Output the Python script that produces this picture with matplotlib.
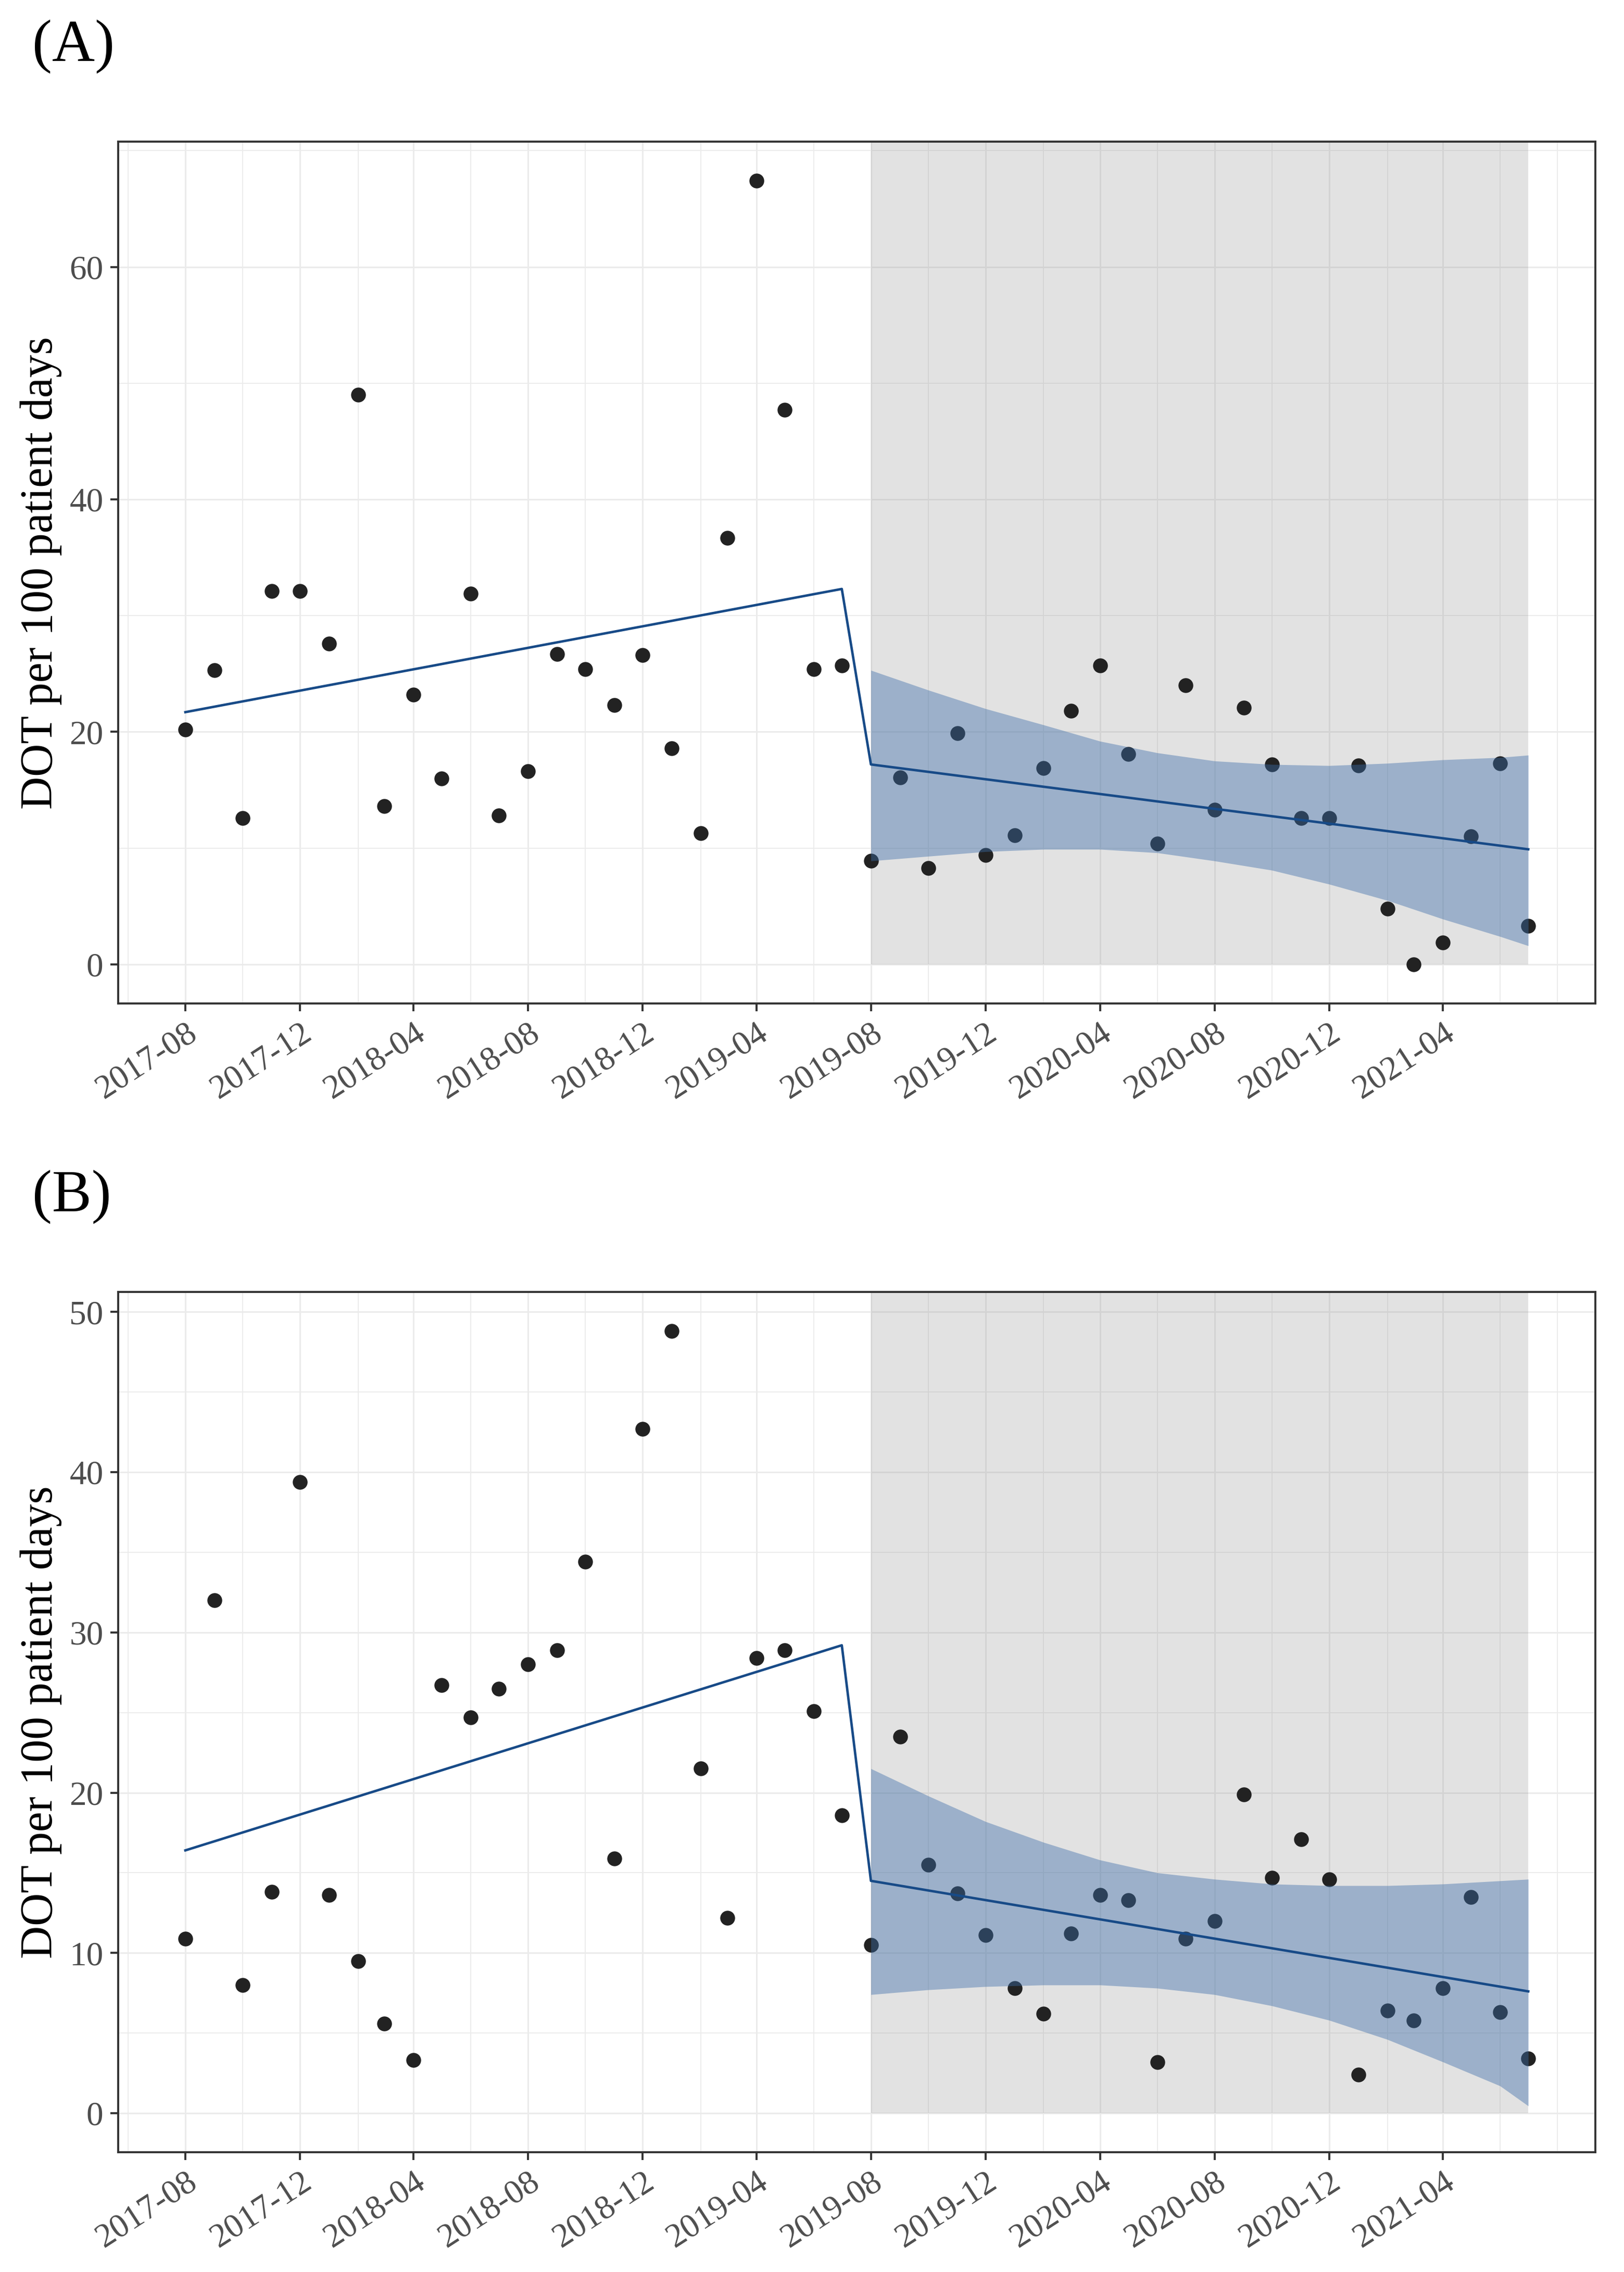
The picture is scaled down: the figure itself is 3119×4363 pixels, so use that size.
import numpy as np
import pandas as pd
import matplotlib
matplotlib.use('Agg')
import matplotlib.pyplot as plt
from matplotlib.ticker import MultipleLocator, FixedLocator
import matplotlib.dates as mdates

plt.rcParams['font.family'] = ['Liberation Serif', 'DejaVu Serif']

# ---- D A T A ---- #
months = pd.date_range('2017-08-01', periods=48, freq='MS')
intervention_start = '2019-08-01'
tick_labels = ['2017-08', '2017-12', '2018-04', '2018-08', '2018-12', '2019-04',
               '2019-08', '2019-12', '2020-04', '2020-08', '2020-12', '2021-04']

# (A) monthly DOT per 100 patient days
dot_a = [20.2, 25.3, 12.6, 32.1, 32.1, 27.6, 49.0, 13.6, 23.2, 16.0, 31.9, 12.8,
         16.6, 26.7, 25.4, 22.3, 26.6, 18.6, 11.3, 36.7, 67.4, 47.7, 25.4, 25.7,
         8.9, 16.1, 8.3, 19.9, 9.4, 11.1, 16.9, 21.8, 25.7, 18.1, 10.4, 24.0,
         13.3, 22.1, 17.2, 12.6, 12.6, 17.1, 4.8, 0.0, 1.9, 11.0, 17.3, 3.3]

# (B) monthly DOT per 100 patient days
dot_b = [10.9, 32.0, 8.0, 13.8, 39.4, 13.6, 9.5, 5.6, 3.3, 26.7, 24.7, 26.5,
         28.0, 28.9, 34.4, 15.9, 42.7, 48.8, 21.5, 12.2, 28.4, 28.9, 25.1, 18.6,
         10.5, 23.5, 15.5, 13.7, 11.1, 7.8, 6.2, 11.2, 13.6, 13.3, 3.2, 10.9,
         12.0, 19.9, 14.7, 17.1, 14.6, 2.4, 6.4, 5.8, 7.8, 13.5, 6.3, 3.4]

# segmented regression line (pre end, post start)
trend_dates = ['2017-08-01', '2019-07-01', '2019-08-01', '2021-07-01']
trend_a = [21.7, 32.3, 17.2, 9.9]
trend_b = [16.4, 29.2, 14.5, 7.6]

# confidence band of the post period
ci_dates = ['2019-08-01', '2019-10-01', '2019-12-01', '2020-02-01', '2020-04-01',
            '2020-06-01', '2020-08-01', '2020-10-01', '2020-12-01', '2021-02-01',
            '2021-04-01', '2021-06-01', '2021-07-01']
ci_upper_a = [25.3, 23.6, 22.0, 20.6, 19.2, 18.2, 17.5, 17.2, 17.1, 17.3, 17.6, 17.8, 18.0]
ci_lower_a = [8.9, 9.3, 9.7, 9.9, 9.9, 9.6, 8.9, 8.1, 6.9, 5.5, 3.9, 2.4, 1.6]
ci_upper_b = [21.5, 19.8, 18.2, 16.9, 15.8, 15.0, 14.6, 14.3, 14.2, 14.2, 14.3, 14.5, 14.6]
ci_lower_b = [7.4, 7.7, 7.9, 8.0, 8.0, 7.8, 7.4, 6.7, 5.8, 4.6, 3.2, 1.7, 0.45]
# ---- D A T A ---- #


def draw_panel(ax, dots, trend, ci_up, ci_lo, y_step):
   # limits like ggplot: 5% expansion, y range includes 0 (shaded rect starts at 0)
   x_pad = (months[-1] - months[0]) * 0.05
   ax.set_xlim(months[0] - x_pad, months[-1] + x_pad)
   y_lo, y_hi = 0, max(max(dots), max(ci_up))
   y_pad = (y_hi - y_lo) * 0.05
   ax.set_ylim(y_lo - y_pad, y_hi + y_pad)

   # post-intervention shading
   frac0 = (0 - (y_lo - y_pad)) / (y_hi - y_lo + 2 * y_pad)
   ax.axvspan(pd.Timestamp(intervention_start), months[-1], ymin=frac0, ymax=1,
              facecolor='#7f7f7f', alpha=0.22, linewidth=0, zorder=1)

   ax.scatter(months, dots, s=420, color='#222222', linewidths=0, zorder=2)

   ci_x = pd.to_datetime(ci_dates)
   ax.fill_between(ci_x, ci_lo, ci_up, color='#3b6da9', alpha=0.42, linewidth=0, zorder=3)

   tx = pd.to_datetime(trend_dates)
   ax.plot(tx, trend, color='#174a87', linewidth=3.4, zorder=4)

   # ticks / grid
   ax.xaxis.set_major_locator(FixedLocator(mdates.date2num(pd.to_datetime(tick_labels))))
   ax.set_xticklabels(tick_labels)
   ax.xaxis.set_minor_locator(FixedLocator(mdates.date2num(
      pd.date_range('2017-06-01', '2021-08-01', freq='2MS'))))
   ax.yaxis.set_major_locator(MultipleLocator(y_step))
   ax.yaxis.set_minor_locator(MultipleLocator(y_step / 2))

   ax.set_axisbelow(True)
   ax.grid(which='major', color='#ebebeb', linewidth=2.2)
   ax.grid(which='minor', color='#ebebeb', linewidth=1.3)

   ax.tick_params(which='major', length=10.5, width=2.8, color='#333333',
                  labelsize=47, labelcolor='#4d4d4d')
   ax.tick_params(which='minor', length=0)
   ax.tick_params(axis='y', pad=10)
   ax.tick_params(axis='x', pad=9)
   for lab in ax.get_xticklabels():
      lab.set_rotation(33)
      lab.set_ha('right')
      lab.set_va('top')
      lab.set_rotation_mode('anchor')

   for sp in ax.spines.values():
      sp.set_color('#333333')
      sp.set_linewidth(2.8)


fig = plt.figure(figsize=(31.19, 43.63), dpi=100)

ax_a = fig.add_axes([0.0728, 0.5583, 0.9096, 0.3793])
draw_panel(ax_a, dot_a, trend_a, ci_upper_a, ci_lower_a, 20)

ax_b = fig.add_axes([0.0728, 0.0527, 0.9096, 0.3786])
draw_panel(ax_b, dot_b, trend_b, ci_upper_b, ci_lower_b, 10)

# panel letters + y labels
fig.text(0.0199, 1 - 117 / 4363, '(A)', fontsize=82, ha='left', va='baseline')
fig.text(0.0199, 1 - 2326 / 4363, '(B)', fontsize=82, ha='left', va='baseline')
for ax in [ax_a, ax_b]:
   pos = ax.get_position()
   fig.text(0.0252, pos.y0 + pos.height / 2, 'DOT per 100 patient days', fontsize=63,
            rotation=90, ha='center', va='center')

fig.savefig('out.png', dpi=100)
